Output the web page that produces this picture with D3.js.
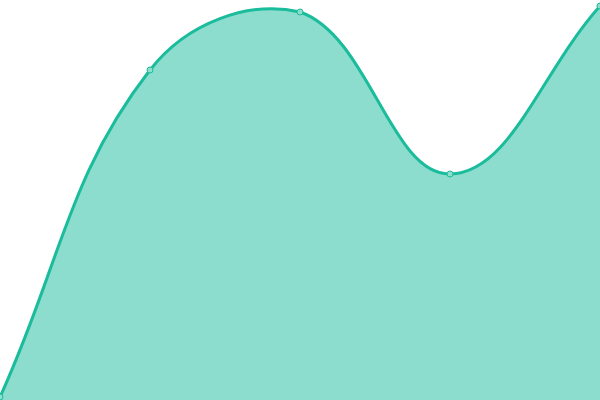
<!DOCTYPE html>
<html>
<head>
<meta charset="utf-8">
<script src="https://cdn.jsdelivr.net/npm/d3@7"></script>
<style>
  html, body { margin: 0; padding: 0; background: #fff; }
</style>
</head>
<body>
<div id="chart"></div>
<script>
var labels = ["A", "B", "C", "D", "E"];
var values = [3, 330, 388, 226, 394];

var width = 600,
	height = 400;

var lineColor = '#1abc9c',
	tension = 0.4;

var svg = d3.select("#chart")
	.append("svg")
	.attr("width", width)
	.attr("height", height);

var x = d3.scalePoint().domain(labels).range([0, width]);
var y = d3.scaleLinear().domain([0, 400]).range([height, 0]);

var pts = labels.map(function(l, i){ return [x(l), y(values[i])]; });

function dist(a, b){ return Math.sqrt((a[0]-b[0])*(a[0]-b[0]) + (a[1]-b[1])*(a[1]-b[1])); }
function clamp(v, lo, hi){ return Math.max(lo, Math.min(hi, v)); }

// spline control points, tension based on neighbour distances, kept inside the plot
var cps = pts.map(function(p, i){
	var prev = pts[i-1] || p,
		next = pts[i+1] || p;
	var d01 = dist(prev, p), d12 = dist(p, next), s = d01 + d12;
	var fa = s ? tension * d01 / s : 0,
		fb = s ? tension * d12 / s : 0;
	return {
		px: clamp(p[0] - fa * (next[0] - prev[0]), 0, width),
		py: clamp(p[1] - fa * (next[1] - prev[1]), 0, height),
		nx: clamp(p[0] + fb * (next[0] - prev[0]), 0, width),
		ny: clamp(p[1] + fb * (next[1] - prev[1]), 0, height)
	};
});

function curve(ctx){
	ctx.moveTo(pts[0][0], pts[0][1]);
	for (var i = 1; i < pts.length; i++) {
		ctx.bezierCurveTo(cps[i-1].nx, cps[i-1].ny, cps[i].px, cps[i].py, pts[i][0], pts[i][1]);
	}
	return ctx;
}

var areaPath = curve(d3.path());
areaPath.lineTo(pts[pts.length-1][0], y(0));
areaPath.lineTo(pts[0][0], y(0));
areaPath.closePath();

svg.append("path")
	.attr("fill", lineColor)
	.attr("fill-opacity", 0.5)
	.attr("d", areaPath.toString());

svg.append("path")
	.attr("fill", "none")
	.attr("stroke", lineColor)
	.attr("stroke-width", 3)
	.attr("d", curve(d3.path()).toString());

svg.selectAll("circle")
	.data(pts)
	.enter()
	.append("circle")
	.attr("cx", function(d){ return d[0]; })
	.attr("cy", function(d){ return d[1]; })
	.attr("r", 3)
	.attr("fill", "#8ddecd")
	.attr("stroke", lineColor)
	.attr("stroke-width", 1);
</script>
</body>
</html>
